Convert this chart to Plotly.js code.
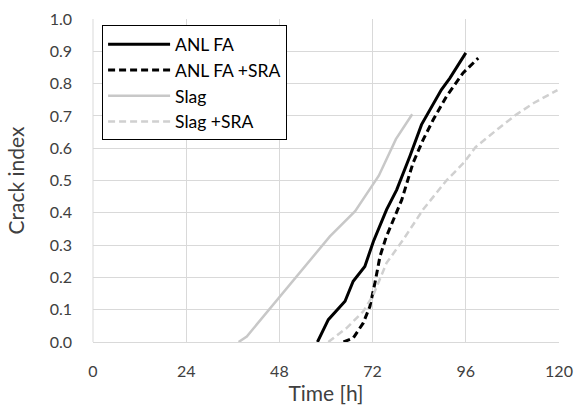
<!DOCTYPE html>
<html>
<head>
<meta charset="utf-8">
<script src="https://cdn.plot.ly/plotly-3.0.1.min.js"></script>
<style>html,body{margin:0;padding:0;background:#fff;}#chart{width:579px;height:410px;}</style>
</head>
<body>
<div id="chart"></div>
<script>
// Data
const anlFaTime = [57.8, 60.6, 64.9, 67.0, 70.0, 72.2, 75.6, 78.2, 81.6, 84.6, 89.7, 91.9, 96.0];
const anlFaIndex = [0, 0.069, 0.126, 0.188, 0.234, 0.311, 0.41, 0.471, 0.575, 0.673, 0.781, 0.817, 0.895];

const anlFaSraTime = [64.5, 67.0, 69.6, 71.3, 72.6, 73.9, 75.5, 77.5, 79.5, 82.4, 85.0, 87.6, 91.0, 95.3, 99.2];
const anlFaSraIndex = [0, 0.012, 0.059, 0.11, 0.183, 0.265, 0.325, 0.38, 0.44, 0.554, 0.626, 0.688, 0.76, 0.833, 0.879];

const slagTime = [37.5, 39.6, 61.0, 67.5, 73.6, 78.0, 82.2];
const slagIndex = [0, 0.017, 0.327, 0.405, 0.515, 0.628, 0.705];

const slagSraTime = [60.6, 65.3, 69.6, 72.2, 75.6, 79.9, 85.0, 91.0, 95.5, 98.5, 104.5, 109.0, 113.5, 119.6];
const slagSraIndex = [0, 0.043, 0.095, 0.146, 0.245, 0.317, 0.41, 0.5, 0.555, 0.603, 0.662, 0.704, 0.74, 0.78];

const seriesNames = ["ANL FA", "ANL FA +SRA", "Slag", "Slag +SRA"];
const xTicks = [0, 24, 48, 72, 96, 120];

const FONT = "Lato, 'Open Sans', sans-serif";

const traces = [
  {x: anlFaTime, y: anlFaIndex, name: seriesNames[0], mode: "lines",
   line: {color: "#000000", width: 3}},
  {x: anlFaSraTime, y: anlFaSraIndex, name: seriesNames[1], mode: "lines",
   line: {color: "#000000", width: 3, dash: "7px,4px"}},
  {x: slagTime, y: slagIndex, name: seriesNames[2], mode: "lines",
   line: {color: "#c8c8c8", width: 2.5}},
  {x: slagSraTime, y: slagSraIndex, name: seriesNames[3], mode: "lines",
   line: {color: "#d0d0d0", width: 2.5, dash: "7px,4px"}}
];

const layout = {
  width: 579, height: 410,
  margin: {l: 93, r: 20, t: 19, b: 68},
  paper_bgcolor: "#ffffff", plot_bgcolor: "#ffffff",
  font: {family: FONT, size: 16, color: "#404040"},
  showlegend: true,
  legend: {
    x: 0.0195, y: 0.98, xanchor: "left", yanchor: "top",
    bordercolor: "#000000", borderwidth: 1, bgcolor: "#ffffff",
    font: {family: FONT, size: 17.5, color: "#000000"},
    itemwidth: 62, tracegroupgap: 0
  },
  xaxis: {
    range: [0, 120], tickvals: xTicks, ticktext: xTicks.map(String),
    showgrid: true, gridcolor: "#d9d9d9", gridwidth: 1,
    zeroline: false, showline: true, linecolor: "#d9d9d9", linewidth: 1,
    ticks: "", ticklabelstandoff: 15,
    tickfont: {family: FONT, size: 16, color: "#404040"},
    title: {text: "Time [h]", font: {family: FONT, size: 21, color: "#404040"}, standoff: 6}
  },
  yaxis: {
    range: [0, 1], dtick: 0.1, tick0: 0, tickformat: ".1f",
    showgrid: true, gridcolor: "#d9d9d9", gridwidth: 1,
    zeroline: false, showline: false,
    ticks: "", ticklabelstandoff: 20,
    tickfont: {family: FONT, size: 16, color: "#404040"},
    title: {text: "Crack index", font: {family: FONT, size: 21, color: "#404040"}, standoff: 19}
  },
  shapes: [
    {type: "line", xref: "paper", yref: "paper", x0: 0, x1: 0, y0: 0, y1: 1, line: {color: "#d9d9d9", width: 1}, layer: "below"}
  ]
};

Plotly.newPlot("chart", traces, layout, {staticPlot: true, displayModeBar: false});
</script>
</body>
</html>
